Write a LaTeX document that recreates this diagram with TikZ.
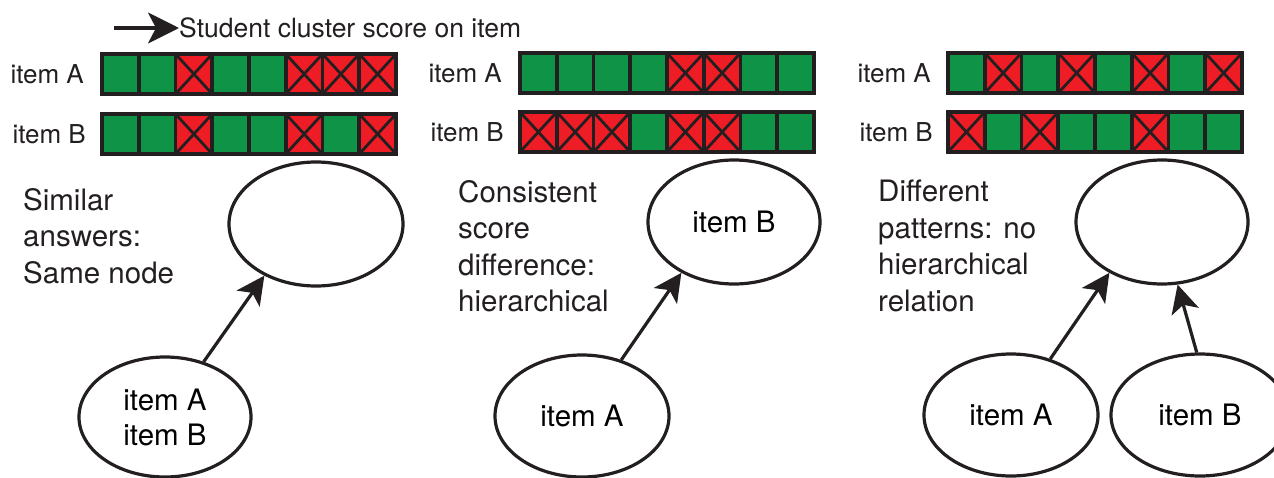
\documentclass[tikz,border=0pt]{standalone}
\usepackage{fontspec}
\setmainfont{TeX Gyre Heros}
\usetikzlibrary{arrows.meta,shapes.geometric}
\definecolor{good}{HTML}{0F9347}
\definecolor{bad}{HTML}{EE1D25}
\definecolor{ink}{HTML}{231F20}
\tikzset{
  cellline/.style={draw=ink, line width=3.6pt},
  crossline/.style={draw=ink, line width=2.8pt},
  ell/.style={draw=ink, line width=3.2pt, ellipse, inner sep=0pt, align=center,
    font=\fontsize{29.5}{35}\selectfont},
  arr/.style={draw=ink, line width=3.2pt, -{Stealth[length=28pt,width=28pt,inset=7pt]}},
  lbl/.style={anchor=east, inner sep=0pt, text=ink, font=\fontsize{26}{30}\selectfont},
  desc/.style={anchor=north west, inner sep=0pt, align=left, text=ink,
    font=\fontsize{29.5}{36.5}\selectfont},
}
\newcommand\scorebar[3]{%
 \begin{scope}[shift={(#1,#2)}]
 \foreach \v [count=\i from 0] in {#3}{%
   \ifnum\v=1
     \fill[bad] (\i*36.75,0) rectangle ++(36.75,40);
     \draw[crossline] (\i*36.75,0) -- ++(36.75,40) (\i*36.75+36.75,0) -- ++(-36.75,40);
   \else
     \fill[good] (\i*36.75,0) rectangle ++(36.75,40);
   \fi
 }
 \foreach \k in {1,...,7} \draw[cellline] (\k*36.75,0) -- ++(0,40);
 \draw[cellline] (0,0) rectangle (294,40);
 \end{scope}}
\begin{document}
\begin{tikzpicture}[x=1pt,y=-1pt]
\useasboundingbox (0,0) rectangle (1274,477);
\clip (0,0) rectangle (1274,477);
% legend
\coordinate (ls) at (114,28);
\node[anchor=west, inner sep=0pt, text=ink, font=\fontsize{26.5}{30}\selectfont] (legend) at (179,28) {Student cluster score on item};
\draw[draw=ink, line width=3.2pt, -{Stealth[length=31pt,width=31pt,inset=8pt]}] (ls) -- (legend.west);
% panel 1 bars
\scorebar{102}{54}{0,0,1,0,0,1,1,1}
\scorebar{102}{114}{0,0,1,0,0,1,0,1}
\node[lbl] (p1a) at (84,74) {item A};
\node[lbl] (p1b) at (86,134) {item B};
% panel 2 bars
\scorebar{520}{53}{0,0,0,0,1,1,0,0}
\scorebar{520}{112}{1,1,1,0,1,1,0,0}
\node[lbl] (p2a) at (502,73) {item A};
\node[lbl] (p2b) at (504,132) {item B};
% panel 3 bars
\scorebar{948}{53}{0,1,0,1,0,1,0,1}
\scorebar{948}{112}{1,0,1,0,0,1,0,0}
\node[lbl] (p3a) at (931,73) {item A};
\node[lbl] (p3b) at (933,132) {item B};
% descriptions
\node[desc] (d1) at (23,188) {Similar\\answers:\\Same node};
\node[desc] (d2) at (458,180) {Consistent\\score\\difference:\\hierarchical};
\node[desc] (d3) at (878,180) {Different\\patterns: no\\hierarchical\\relation};
% panel 1 graph
\node[ell, minimum width=174pt, minimum height=124pt] (t1) at (316,224) {};
\node[ell, minimum width=172pt, minimum height=120pt] (b1) at (165,417) {item A\\item B};
\draw[arr] (b1.55) -- (t1.225);
% panel 2 graph
\node[ell, minimum width=172pt, minimum height=124pt] (t2) at (734,222) {item B};
\node[ell, minimum width=174pt, minimum height=122pt] (b2) at (582,416) {item A};
\draw[arr] (b2.55) -- (t2.224);
% panel 3 graph
\node[ell, minimum width=172pt, minimum height=124pt] (t3) at (1162,222) {};
\node[ell, minimum width=174pt, minimum height=122pt] (a3) at (1011,415) {item A};
\node[ell, minimum width=178pt, minimum height=122pt] (c3) at (1200,415) {item B};
\draw[arr] (a3.55) -- (t3.224);
\draw[arr] (c3.93) -- (t3.284);
\end{tikzpicture}
\end{document}
